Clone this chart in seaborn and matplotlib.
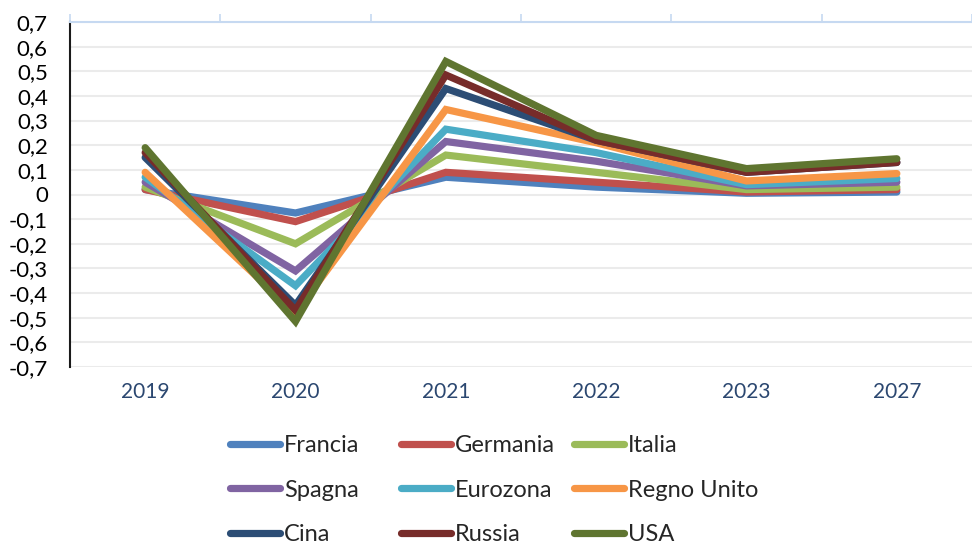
import numpy as np
import pandas as pd
import matplotlib
matplotlib.use("Agg")
import matplotlib.pyplot as plt
import seaborn as sns
from matplotlib.ticker import FuncFormatter

years = ["2019", "2020", "2021", "2022", "2023", "2027"]
series_names = ["Francia", "Germania", "Italia", "Spagna", "Eurozona",
                "Regno Unito", "Cina", "Russia", "USA"]
francia = [0.02, -0.075, 0.07, 0.03, 0.005, 0.01]
germania = [0.02, -0.11, 0.09, 0.05, 0.01, 0.02]
italia = [0.03, -0.20, 0.16, 0.09, 0.02, 0.03]
spagna = [0.05, -0.31, 0.215, 0.135, 0.035, 0.05]
eurozona = [0.07, -0.37, 0.265, 0.17, 0.04, 0.065]
regno_unito = [0.09, -0.48, 0.345, 0.21, 0.055, 0.085]
cina = [0.15, -0.45, 0.43, 0.22, 0.09, 0.13]
russia = [0.17, -0.47, 0.485, 0.22, 0.09, 0.13]
usa = [0.19, -0.515, 0.54, 0.24, 0.105, 0.145]
values = [francia, germania, italia, spagna, eurozona, regno_unito, cina, russia, usa]
colors = ["#4F81BD", "#C0504D", "#9BBB59", "#8064A2", "#4BACC6",
          "#F79646", "#2C4D75", "#772C2A", "#5F7530"]

rows = []
for name, vals in zip(series_names, values):
    for i, (y, v) in enumerate(zip(years, vals)):
        rows.append({"pos": i, "anno": y, "serie": name, "valore": v})
df = pd.DataFrame(rows)

sns.set_theme(style="white")
plt.rcParams["font.family"] = ["Lato", "DejaVu Sans"]

fig = plt.figure(figsize=(9.72, 5.45), dpi=100)
ax = fig.add_axes([70 / 972, 1 - 367 / 545, 1 - 70 / 972, (367 - 22) / 545])

sns.lineplot(data=df, x="pos", y="valore", hue="serie", hue_order=series_names,
             palette=colors, linewidth=5.2, sort=False, legend=False, ax=ax,
             solid_capstyle="round", solid_joinstyle="miter")

ax.set_xlim(-0.5, 5.5)
ax.set_ylim(-0.7, 0.7)
ax.set_yticks(np.round(np.arange(-0.7, 0.71, 0.1), 1))
ax.yaxis.set_major_formatter(FuncFormatter(
    lambda v, p: "0" if abs(v) < 1e-9 else f"{v:.1f}".replace(".", ",")))
ax.set_xticks(range(len(years)))
ax.set_xticklabels(years)
ax.set_xticks(np.arange(-0.5, 6.0, 1.0), minor=True)
ax.set_xlabel("")
ax.set_ylabel("")

ax.grid(axis="y", color="#EBEBEB", linewidth=1.5)
ax.set_axisbelow(True)
for s in ["right", "bottom"]:
    ax.spines[s].set_visible(False)
ax.spines["left"].set_color("#1a1a1a")
ax.spines["left"].set_linewidth(1.5)
ax.spines["top"].set_color("#C6D9F1")
ax.spines["top"].set_linewidth(1.5)

ax.tick_params(axis="y", length=0, pad=16, labelsize=16, labelcolor="black")
ax.tick_params(axis="x", which="major", bottom=False, top=False,
               labelbottom=True, pad=5, labelsize=15, labelcolor="#2B4770")
ax.tick_params(axis="x", which="minor", bottom=False, top=True,
               direction="out", length=6, width=1.2, color="#C6D9F1")

lines = ax.get_lines()[:len(series_names)]
col_x = [230 / 972, 401 / 972, 574 / 972]
for c in range(3):
    hs = [lines[c + 3 * r] for r in range(3)]
    ls = [series_names[c + 3 * r] for r in range(3)]
    fig.legend(hs, ls, loc="upper left", bbox_to_anchor=(col_x[c], 1 - 435 / 545),
               frameon=False, fontsize=17, handlelength=2.1, handletextpad=0.2,
               labelspacing=1.0, borderpad=0, borderaxespad=0)

fig.savefig("out.png", dpi=100)
